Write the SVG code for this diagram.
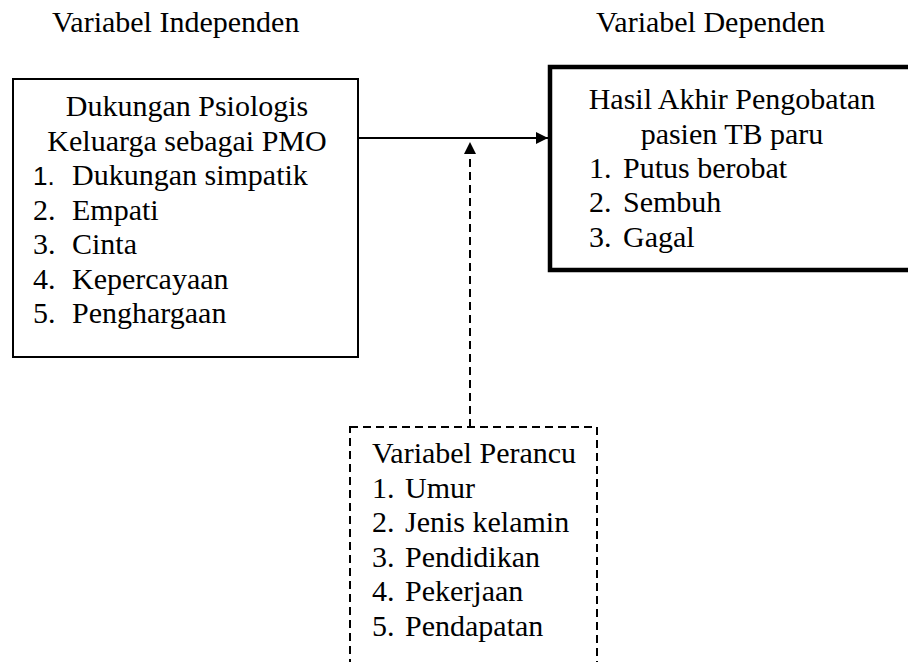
<svg xmlns="http://www.w3.org/2000/svg" width="908" height="662" viewBox="0 0 908 662">
<style>
text{font-family:'Liberation Serif',serif;font-size:30px;fill:#000}
.mid{text-anchor:middle}
.num{font-family:'Liberation Sans',sans-serif;font-size:26px}
.box{fill:#fff;stroke:#000;stroke-width:2}
.thick{fill:#fff;stroke:#000;stroke-width:4.5}
.dash{fill:none;stroke:#000;stroke-width:2;stroke-dasharray:8 5}
.line{fill:none;stroke:#000;stroke-width:2}
</style>
<defs>
<marker id="ah" viewBox="0 0 10 10" refX="10" refY="5" markerWidth="6.5" markerHeight="6" orient="auto" markerUnits="strokeWidth">
<path d="M0,0L10,5L0,10z" fill="#000"/>
</marker>
</defs>
<g id="title-indep"><text x="52" y="32">Variabel Independen</text></g>
<g id="title-dep"><text x="596" y="32">Variabel Dependen</text></g>
<g id="node-independen">
<rect class="box" x="13" y="79" width="345" height="278"/>
<text class="mid" x="187" y="116">Dukungan Psiologis</text>
<text class="mid" x="187" y="151">Keluarga sebagai PMO</text>
<text class="num" x="33" y="185">1.</text><text x="72" y="185">Dukungan simpatik</text>
<text x="33" y="220">2.</text><text x="72" y="220">Empati</text>
<text x="33" y="254">3.</text><text x="72" y="254">Cinta</text>
<text x="33" y="289">4.</text><text x="72" y="289">Kepercayaan</text>
<text x="33" y="323">5.</text><text x="72" y="323">Penghargaan</text>
</g>
<g id="node-dependen">
<rect class="thick" x="550" y="67" width="370" height="203"/>
<text class="mid" x="732" y="109">Hasil Akhir Pengobatan</text>
<text class="mid" x="732" y="144">pasien TB paru</text>
<text x="589" y="178">1.</text><text x="623" y="178">Putus berobat</text>
<text x="589" y="212">2.</text><text x="623" y="212">Sembuh</text>
<text x="589" y="247">3.</text><text x="623" y="247">Gagal</text>
</g>
<g id="node-perancu">
<rect class="dash" x="350" y="427" width="247" height="250"/>
<text x="372" y="463">Variabel Perancu</text>
<text x="372" y="498">1.</text><text x="405" y="498">Umur</text>
<text x="372" y="532">2.</text><text x="405" y="532">Jenis kelamin</text>
<text x="372" y="567">3.</text><text x="405" y="567">Pendidikan</text>
<text x="372" y="601">4.</text><text x="405" y="601">Pekerjaan</text>
<text x="372" y="636">5.</text><text x="405" y="636">Pendapatan</text>
</g>
<g id="connectors">
<line class="line" x1="359" y1="138" x2="548" y2="138" marker-end="url(#ah)"/>
<line class="dash" x1="470" y1="427" x2="470" y2="142" marker-end="url(#ah)"/>
</g>
</svg>
